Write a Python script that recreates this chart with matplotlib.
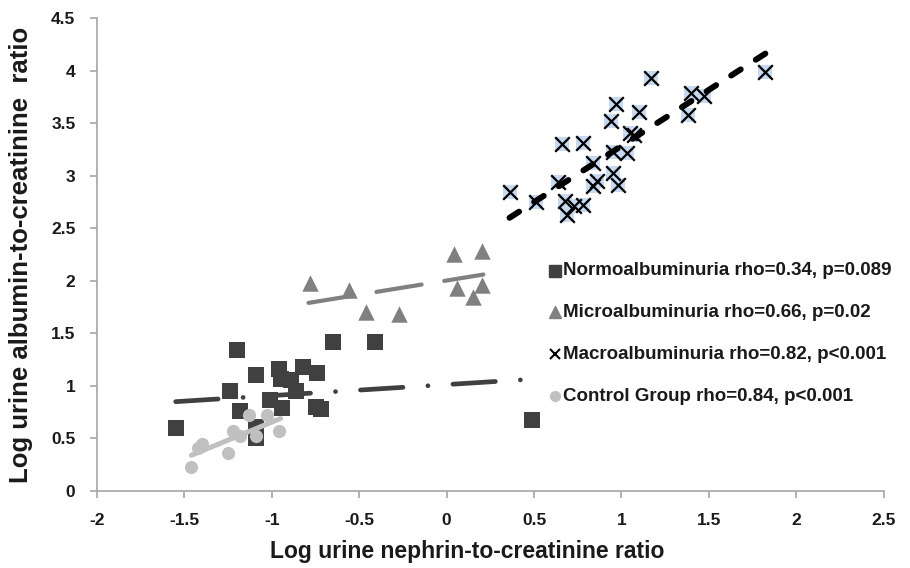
import matplotlib
matplotlib.use("Agg")
import matplotlib.pyplot as plt
from matplotlib.lines import Line2D

plt.rcParams["font.family"] = ["Liberation Sans", "DejaVu Sans"]

# ---------- data ----------
normo_x = [-1.55, -1.20, -1.09, -1.24, -1.18, -1.09, -1.09, -1.01, -0.96, -0.95,
           -0.89, -0.86, -0.94, -0.82, -0.74, -0.75, -0.72, -0.65, -0.41, 0.49]
normo_y = [0.60, 1.34, 1.10, 0.95, 0.76, 0.61, 0.50, 0.87, 1.16, 1.07,
           1.06, 0.95, 0.79, 1.18, 1.12, 0.80, 0.78, 1.42, 1.42, 0.68]

micro_x = [-0.78, -0.56, -0.46, -0.27, 0.04, 0.20, 0.06, 0.20, 0.15]
micro_y = [1.98, 1.91, 1.70, 1.68, 2.26, 2.28, 1.93, 1.96, 1.85]

macro_x = [0.36, 0.51, 0.64, 0.66, 0.68, 0.69, 0.73, 0.78, 0.78, 0.84,
           0.84, 0.86, 0.94, 0.95, 0.95, 0.97, 0.98, 1.03, 1.05, 1.07,
           1.10, 1.17, 1.38, 1.40, 1.47, 1.82]
macro_y = [2.85, 2.75, 2.94, 3.30, 2.76, 2.63, 2.71, 2.72, 3.31, 3.12,
           2.90, 2.95, 3.52, 3.23, 3.03, 3.68, 2.91, 3.22, 3.41, 3.39,
           3.61, 3.93, 3.58, 3.79, 3.76, 3.99]

ctrl_x = [-1.46, -1.40, -1.42, -1.25, -1.22, -1.18, -1.13, -1.09, -1.03, -0.96]
ctrl_y = [0.23, 0.45, 0.41, 0.36, 0.57, 0.52, 0.72, 0.52, 0.72, 0.57]

# trend lines: end points
normo_fit_x = [-1.55, 0.45]
normo_fit_y = [0.85, 1.06]
micro_fit_x = [-0.79, 0.21]
micro_fit_y = [1.79, 2.06]
macro_fit_x = [0.36, 1.83]
macro_fit_y = [2.60, 4.17]
ctrl_fit_x = [-1.46, -0.95]
ctrl_fit_y = [0.34, 0.69]

labels = ["Normoalbuminuria rho=0.34, p=0.089",
          "Microalbuminuria rho=0.66, p=0.02",
          "Macroalbuminuria rho=0.82, p<0.001",
          "Control Group rho=0.84, p<0.001"]

# ---------- colours ----------
c_normo = "#404040"
c_micro = "#808080"
c_ctrl = "#c0c0c0"
c_macro_bg = "#c6d9f1"
c_axis = "#a6a6a6"
c_text = "#1a1a1a"

fig = plt.figure(figsize=(9.10, 5.68), dpi=100)
ax = fig.add_axes([0.1066, 0.1356, 0.8644, 0.8324])

# points
ax.scatter(normo_x, normo_y, marker="s", s=120, color=c_normo, zorder=3, lw=0)
ax.scatter(micro_x, micro_y, marker="^", s=140, color=c_micro, zorder=3, lw=0)
ax.scatter(macro_x, macro_y, marker="s", s=110, color=c_macro_bg, zorder=3, lw=0)
ax.scatter(macro_x, macro_y, marker="x", s=110, color="black", zorder=4, lw=1.6)
ax.scatter(ctrl_x, ctrl_y, marker="o", s=90, color=c_ctrl, zorder=3, lw=0)

# trend lines
ax.plot(normo_fit_x, normo_fit_y, color=c_normo, lw=3.4,
        dashes=(9, 5.3, 0.01, 5.3), dash_capstyle="round", zorder=5)
ax.plot(micro_fit_x, micro_fit_y, color=c_micro, lw=3.0,
        dashes=(11, 5.5), dash_capstyle="round", zorder=5)
ax.plot(macro_fit_x, macro_fit_y, color="black", lw=4.3,
        dashes=(1.9, 3), dash_capstyle="round", zorder=5)
ax.plot(ctrl_fit_x, ctrl_fit_y, color=c_ctrl, lw=3.6,
        solid_capstyle="round", zorder=5)

# axes
ax.set_xlim(-2, 2.5)
ax.set_ylim(0, 4.5)
ax.set_xticks([-2, -1.5, -1, -0.5, 0, 0.5, 1, 1.5, 2, 2.5])
ax.set_xticklabels(["-2", "-1.5", "-1", "-0.5", "0", "0.5", "1", "1.5", "2", "2.5"])
ax.set_yticks([0, 0.5, 1, 1.5, 2, 2.5, 3, 3.5, 4, 4.5])
ax.set_yticklabels(["0", "0.5", "1", "1.5", "2", "2.5", "3", "3.5", "4", "4.5"])
for side in ["top", "right"]:
    ax.spines[side].set_visible(False)
for side in ["left", "bottom"]:
    ax.spines[side].set_color(c_axis)
    ax.spines[side].set_linewidth(1.2)
ax.tick_params(direction="out", length=5, width=1.2, color=c_axis,
               labelsize=12.5, labelcolor=c_text, pad=10.5)
for t in ax.get_xticklabels() + ax.get_yticklabels():
    t.set_fontweight("bold")

ax.set_xlabel("Log urine nephrin-to-creatinine ratio", fontsize=16.5,
              fontweight="bold", color=c_text)
ax.set_ylabel("Log urine albumin-to-creatinine  ratio", fontsize=18.5,
              fontweight="bold", color=c_text)
ax.xaxis.set_label_coords(0.471, -0.103)
ax.yaxis.set_label_coords(-0.081, 0.50)

# legend
handles = [
    Line2D([], [], ls="none", marker="s", ms=8, color=c_normo),
    Line2D([], [], ls="none", marker="^", ms=8, color=c_micro),
    Line2D([], [], ls="none", marker="x", ms=7, mew=1.5, color="black"),
    Line2D([], [], ls="none", marker="o", ms=7, color=c_ctrl),
]
leg = ax.legend(handles, labels, loc="upper left", bbox_to_anchor=(0.57, 0.495),
                frameon=False, handlelength=0.6, handletextpad=0.3,
                labelspacing=1.78, borderaxespad=0)
for t in leg.get_texts():
    t.set_fontsize(13.5)
    t.set_fontweight("bold")
    t.set_color(c_text)

fig.savefig("out.png", dpi=100)
